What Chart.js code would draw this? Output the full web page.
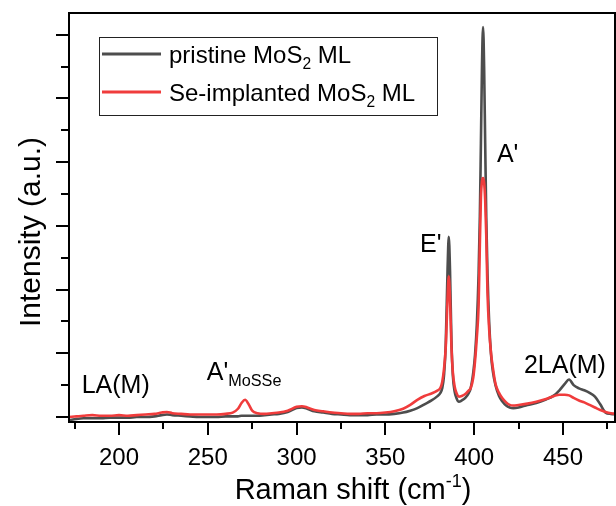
<!DOCTYPE html>
<html>
<head>
<meta charset="utf-8">
<script src="https://cdn.jsdelivr.net/npm/chart.js@4.4.1/dist/chart.umd.min.js"></script>
<style>
  html, body { margin: 0; padding: 0; background: #fff; }
  #wrap { width: 616px; height: 506px; position: relative; }
</style>
</head>
<body>
<div id="wrap"><canvas id="ramanChart"></canvas></div>
<script>
// Raman shift (cm-1) and intensities (a.u.)
const shift = [172, 176, 180, 185, 190, 195, 200, 205, 210, 215, 220, 224, 227, 230, 235, 240, 245, 250, 255, 260,
  264, 267, 269, 271, 273, 275, 278, 282, 286, 290, 295, 300, 303, 306, 310, 315, 320, 325, 330, 335,
  340, 345, 350, 355, 360, 364, 368, 372, 376, 379, 381, 382, 383, 384, 385, 385.7, 386.4, 387.2, 388, 389,
  390, 391.4, 393, 395, 397, 398, 399.5, 400.5, 401.5, 402.5, 403.2, 403.8, 404.4, 405, 405.6, 406.2, 406.8, 407.5, 408.5, 409.5,
  410.5, 412, 414, 416, 418, 420, 422, 425, 430, 435, 440, 445, 448, 451, 453.4, 456, 459, 462, 465, 468,
  471, 474, 477, 480];
const pristine = [-0.05, -0.03, -0.02, -0.02, -0.02, -0.01, -0.01, -0.01, 0.00, 0.00, 0.01, 0.03, 0.04, 0.03, 0.02, 0.01, 0.00, 0.00, 0.00, 0.01,
  0.01, 0.01, 0.02, 0.02, 0.02, 0.02, 0.02, 0.03, 0.04, 0.05, 0.08, 0.14, 0.15, 0.13, 0.09, 0.07, 0.05, 0.04, 0.03, 0.03,
  0.03, 0.04, 0.04, 0.05, 0.07, 0.10, 0.14, 0.20, 0.26, 0.32, 0.38, 0.45, 0.65, 1.15, 2.30, 2.83, 2.30, 1.20, 0.65, 0.40,
  0.30, 0.24, 0.26, 0.30, 0.38, 0.45, 0.70, 0.98, 1.45, 2.25, 3.15, 4.30, 5.50, 6.12, 5.50, 4.30, 3.15, 2.25, 1.45, 0.98,
  0.72, 0.50, 0.33, 0.24, 0.18, 0.15, 0.14, 0.15, 0.19, 0.22, 0.27, 0.34, 0.42, 0.52, 0.59, 0.50, 0.45, 0.42, 0.38, 0.32,
  0.20, 0.07, 0.05, 0.04];
const seImplanted = [0.00, 0.01, 0.02, 0.03, 0.02, 0.02, 0.03, 0.02, 0.03, 0.04, 0.05, 0.07, 0.08, 0.06, 0.05, 0.04, 0.04, 0.04, 0.04, 0.05,
  0.07, 0.13, 0.22, 0.27, 0.20, 0.10, 0.06, 0.05, 0.06, 0.07, 0.10, 0.16, 0.17, 0.15, 0.11, 0.09, 0.07, 0.06, 0.05, 0.05,
  0.06, 0.06, 0.07, 0.09, 0.13, 0.19, 0.27, 0.33, 0.37, 0.41, 0.46, 0.55, 0.75, 1.10, 1.85, 2.21, 1.85, 1.10, 0.70, 0.48,
  0.38, 0.32, 0.33, 0.36, 0.42, 0.45, 0.62, 0.88, 1.25, 1.75, 2.70, 3.45, 3.70, 3.75, 3.68, 3.40, 2.85, 1.95, 1.35, 1.00,
  0.78, 0.52, 0.38, 0.29, 0.23, 0.19, 0.18, 0.19, 0.21, 0.24, 0.28, 0.33, 0.35, 0.35, 0.34, 0.30, 0.26, 0.23, 0.19, 0.15,
  0.11, 0.08, 0.06, 0.05];

const xMajor = [200, 250, 300, 350, 400, 450];
const xMinor = [175, 225, 275, 325, 375, 425, 475];
const yMajor = [0, 1, 2, 3, 4, 5, 6];
const yMinor = [0.5, 1.5, 2.5, 3.5, 4.5, 5.5];

// peak labels, anchored in data coordinates (left edge, baseline)
const peakLabels = [
  { parts: [{ t: 'LA(M)' }], x: 179, y: 0.38 },
  { parts: [{ t: "A'" }, { t: 'MoSSe', sub: true }], x: 249.4, y: 0.58 },
  { parts: [{ t: "E'" }], x: 369.5, y: 2.59 },
  { parts: [{ t: "A'" }], x: 412.8, y: 4.0 },
  { parts: [{ t: '2LA(M)' }], x: 428, y: 0.69 }
];

const FONT = "'Liberation Sans', Arial, sans-serif";
const GREY = '#4d4d4d';
const RED = '#f03c3c';

// draws text with sub/superscript pieces, returns the width
function drawRich(ctx, parts, x, y, size) {
  let cx = x;
  parts.forEach(p => {
    let s = size, dy = 0;
    if (p.sub) { s = size * 0.65; dy = size * 0.25; }
    if (p.sup) { s = size * 0.62; dy = -size * 0.42; }
    ctx.font = s + 'px ' + FONT;
    ctx.fillText(p.t, cx, y + dy);
    cx += ctx.measureText(p.t).width;
  });
  return cx - x;
}

function richWidth(ctx, parts, size) {
  let w = 0;
  parts.forEach(p => {
    let s = size;
    if (p.sub) s = size * 0.65;
    if (p.sup) s = size * 0.62;
    ctx.font = s + 'px ' + FONT;
    w += ctx.measureText(p.t).width;
  });
  return w;
}

const decor = {
  id: 'decor',
  afterDraw(chart) {
    const { ctx, chartArea: a, scales: { x, y } } = chart;
    ctx.save();
    ctx.strokeStyle = '#000';
    ctx.fillStyle = '#000';
    ctx.lineWidth = 2;

    // frame
    ctx.strokeRect(a.left, a.top, a.right - a.left, a.bottom - a.top);

    // tick marks, outward
    ctx.beginPath();
    xMajor.forEach(v => { const px = Math.round(x.getPixelForValue(v)); ctx.moveTo(px, a.bottom); ctx.lineTo(px, a.bottom + 13); });
    xMinor.forEach(v => { const px = Math.round(x.getPixelForValue(v)); ctx.moveTo(px, a.bottom); ctx.lineTo(px, a.bottom + 7); });
    yMajor.forEach(v => { const py = Math.round(y.getPixelForValue(v)); ctx.moveTo(a.left, py); ctx.lineTo(a.left - 13, py); });
    yMinor.forEach(v => { const py = Math.round(y.getPixelForValue(v)); ctx.moveTo(a.left, py); ctx.lineTo(a.left - 8, py); });
    ctx.stroke();

    // peak labels
    ctx.textAlign = 'left';
    ctx.textBaseline = 'alphabetic';
    peakLabels.forEach(l => {
      drawRich(ctx, l.parts, x.getPixelForValue(l.x), y.getPixelForValue(l.y), 25);
    });

    // axis titles
    const xt = [{ t: 'Raman shift (cm' }, { t: '-1', sup: true }, { t: ')' }];
    const w = richWidth(ctx, xt, 29);
    drawRich(ctx, xt, 353 - w / 2, 499, 29);

    ctx.save();
    ctx.translate(40, 232);
    ctx.rotate(-Math.PI / 2);
    ctx.textAlign = 'center';
    ctx.font = '30px ' + FONT;
    ctx.fillText('Intensity (a.u.)', 0, 0);
    ctx.restore();

    // legend
    ctx.lineWidth = 1;
    ctx.strokeStyle = '#222';
    ctx.strokeRect(99.5, 37.5, 338, 78);
    const items = [
      { color: GREY, parts: [{ t: 'pristine MoS' }, { t: '2', sub: true }, { t: ' ML' }], y: 54 },
      { color: RED, parts: [{ t: 'Se-implanted MoS' }, { t: '2', sub: true }, { t: ' ML' }], y: 92 }
    ];
    items.forEach(it => {
      ctx.strokeStyle = it.color;
      ctx.lineWidth = 3;
      ctx.beginPath();
      ctx.moveTo(102, it.y);
      ctx.lineTo(161, it.y);
      ctx.stroke();
      ctx.fillStyle = '#000';
      drawRich(ctx, it.parts, 169, it.y + 9, 24);
    });

    ctx.restore();
  }
};

const ctx = document.getElementById('ramanChart').getContext('2d');
const ramanChart = new Chart(ctx, {
  type: 'line',
  data: {
    datasets: [
      {
        label: 'pristine MoS2 ML',
        data: shift.map((s, i) => ({ x: s, y: pristine[i] })),
        borderColor: GREY,
        borderWidth: 2.6,
        order: 2
      },
      {
        label: 'Se-implanted MoS2 ML',
        data: shift.map((s, i) => ({ x: s, y: seImplanted[i] })),
        borderColor: RED,
        borderWidth: 2.6,
        order: 1
      }
    ]
  },
  options: {
    responsive: true,
    maintainAspectRatio: false,
    animation: false,
    layout: { padding: { top: 13, right: 1, left: 0, bottom: 0 } },
    elements: {
      point: { radius: 0 },
      line: { cubicInterpolationMode: 'monotone', borderJoinStyle: 'round', fill: false }
    },
    plugins: { legend: { display: false }, tooltip: { enabled: false } },
    scales: {
      x: {
        type: 'linear',
        min: 171.85,
        max: 479.3,
        afterBuildTicks: s => { s.ticks = xMajor.map(v => ({ value: v })); },
        afterFit: s => { s.height = 84; },
        grid: { display: false, drawTicks: false },
        border: { display: false },
        ticks: {
          color: '#000',
          font: { family: FONT, size: 24 },
          padding: 22,
          maxRotation: 0,
          autoSkip: false
        }
      },
      y: {
        min: -0.078,
        max: 6.34,
        afterFit: s => { s.width = 69; },
        grid: { display: false, drawTicks: false },
        border: { display: false },
        ticks: { display: false }
      }
    }
  },
  plugins: [decor]
});
</script>
</body>
</html>
